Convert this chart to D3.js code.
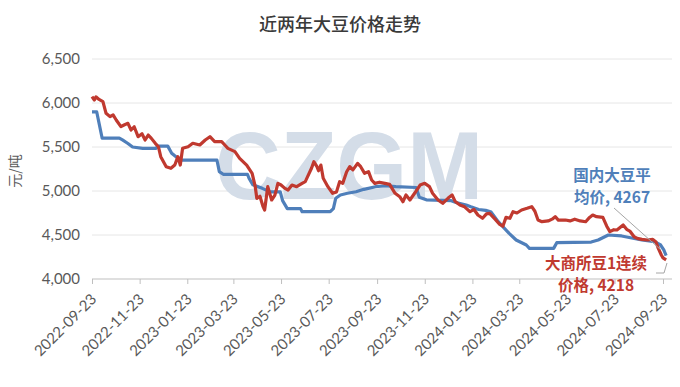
<!DOCTYPE html>
<html><head><meta charset="utf-8">
<script src="https://cdn.jsdelivr.net/npm/d3@7"></script>
<style>body{margin:0;background:#fff}svg{display:block}</style>
</head><body><svg id="c" width="680" height="387"></svg>
<script>
const title = "近两年大豆价格走势";
const yLabel = "元/吨";
const yTicks = [4000, 4500, 5000, 5500, 6000, 6500];
const xTickLabels = ["2022-09-23","2022-11-23","2023-01-23","2023-03-23","2023-05-23","2023-07-23","2023-09-23","2023-11-23","2024-01-23","2024-03-23","2024-05-23","2024-07-23","2024-09-23"];
const watermark = "CZGM";

const blueLabel = ["国内大豆平", "均价, 4267"];
const blueDates = ["2022-09-23","2022-09-29","2022-10-06","2022-10-28","2022-11-01","2022-11-08","2022-11-14","2022-11-27","2022-12-14","2022-12-16","2022-12-29","2023-01-03","2023-01-07","2023-01-14","2023-03-02","2023-03-05","2023-03-10","2023-04-10","2023-04-12","2023-04-17","2023-04-29","2023-05-09","2023-05-22","2023-05-25","2023-05-31","2023-06-17","2023-06-19","2023-07-25","2023-07-29","2023-08-01","2023-08-07","2023-08-16","2023-08-27","2023-09-06","2023-09-21","2023-10-04","2023-10-17","2023-11-12","2023-11-16","2023-11-25","2023-12-27","2024-01-02","2024-01-15","2024-01-21","2024-01-31","2024-02-09","2024-02-16","2024-02-25","2024-03-10","2024-03-19","2024-04-01","2024-04-05","2024-05-06","2024-05-10","2024-06-23","2024-07-02","2024-07-15","2024-08-01","2024-08-27","2024-09-12","2024-09-20","2024-09-24","2024-09-27"];
const blueValues = [5900,5900,5600,5600,5580,5540,5500,5485,5485,5510,5510,5430,5400,5350,5350,5220,5190,5190,5145,5070,5030,4990,4990,4890,4800,4800,4765,4765,4800,4917,4955,4974,4992,5019,5049,5060,5050,5040,4930,4900,4890,4870,4840,4820,4790,4780,4760,4651,4519,4443,4386,4348,4348,4413,4420,4443,4500,4489,4443,4424,4386,4330,4267];

const redLabel = ["大商所豆1连续", "价格, 4218"];
const redDates = ["2022-09-23","2022-09-26","2022-09-28","2022-10-02","2022-10-07","2022-10-11","2022-10-16","2022-10-20","2022-10-24","2022-10-30","2022-11-03","2022-11-08","2022-11-12","2022-11-16","2022-11-21","2022-11-26","2022-11-30","2022-12-04","2022-12-08","2022-12-13","2022-12-17","2022-12-20","2022-12-27","2023-01-02","2023-01-07","2023-01-11","2023-01-14","2023-01-17","2023-01-24","2023-01-30","2023-02-08","2023-02-15","2023-02-21","2023-02-27","2023-03-08","2023-03-12","2023-03-16","2023-03-25","2023-03-31","2023-04-09","2023-04-16","2023-04-20","2023-04-22","2023-04-26","2023-04-30","2023-05-02","2023-05-06","2023-05-11","2023-05-15","2023-05-19","2023-05-23","2023-05-28","2023-06-01","2023-06-06","2023-06-12","2023-06-19","2023-06-23","2023-06-26","2023-07-01","2023-07-04","2023-07-08","2023-07-10","2023-07-13","2023-07-16","2023-07-22","2023-07-28","2023-08-02","2023-08-06","2023-08-10","2023-08-15","2023-08-19","2023-08-23","2023-08-29","2023-09-02","2023-09-07","2023-09-12","2023-09-16","2023-09-20","2023-09-26","2023-10-03","2023-10-09","2023-10-16","2023-10-22","2023-10-26","2023-10-30","2023-11-04","2023-11-10","2023-11-17","2023-11-23","2023-11-29","2023-12-03","2023-12-10","2023-12-16","2023-12-23","2023-12-28","2024-01-01","2024-01-07","2024-01-13","2024-01-20","2024-01-25","2024-01-30","2024-02-05","2024-02-10","2024-02-14","2024-02-21","2024-02-27","2024-03-02","2024-03-06","2024-03-11","2024-03-15","2024-03-20","2024-03-26","2024-04-02","2024-04-08","2024-04-12","2024-04-16","2024-04-21","2024-04-29","2024-05-04","2024-05-08","2024-05-12","2024-05-21","2024-05-27","2024-06-02","2024-06-09","2024-06-16","2024-06-21","2024-06-25","2024-06-30","2024-07-08","2024-07-13","2024-07-17","2024-07-22","2024-07-26","2024-08-03","2024-08-08","2024-08-12","2024-08-17","2024-08-21","2024-08-27","2024-09-03","2024-09-10","2024-09-14","2024-09-17","2024-09-21","2024-09-23","2024-09-27"];
const redValues = [6072,6034,6070,6040,6015,5883,5845,5864,5807,5731,5750,5769,5693,5730,5617,5650,5580,5636,5598,5542,5503,5390,5276,5258,5295,5390,5295,5485,5503,5542,5523,5580,5617,5561,5561,5523,5485,5447,5371,5295,5201,5049,4917,4940,4822,4784,5049,4898,4950,5087,5068,5030,5011,5068,5049,5087,5106,5163,5258,5333,5276,5230,5295,5144,5049,4974,4990,5106,5087,5219,5276,5240,5314,5276,5201,5220,5125,5087,5100,5087,5075,4974,4935,4878,4955,4898,4974,5068,5087,5050,4974,4898,4860,4920,4955,4880,4841,4820,4765,4790,4727,4690,4740,4746,4680,4620,4600,4700,4690,4765,4750,4784,4803,4822,4770,4670,4651,4660,4680,4708,4670,4670,4660,4680,4660,4651,4700,4727,4708,4700,4600,4538,4560,4557,4614,4560,4540,4480,4462,4450,4443,4450,4420,4348,4270,4240,4218];

const parse = d3.timeParse("%Y-%m-%d");
const svg = d3.select("#c");
const mLeft = 92, mRight = 672, mTop = 59, mBottom = 279;

const x = d3.scaleTime().domain([parse("2022-09-23"), parse("2024-09-23")]).range([92, 663]);
const y = d3.scaleLinear().domain([4000, 6500]).range([mBottom, mTop]);

const blueColor = "#4f7fba", redColor = "#c0392f";
const textGray = "#595959";

// gridlines
svg.append("g").selectAll("line").data(yTicks.filter(d => d !== 4000)).join("line")
  .attr("x1", mLeft).attr("x2", mRight)
  .attr("y1", d => y(d)).attr("y2", d => y(d))
  .attr("stroke", "#e6e6e6").attr("stroke-width", 1);

// watermark
svg.append("text").attr("x", 215).attr("y", 199)
  .attr("font-family", "Liberation Sans, Arial, sans-serif").attr("font-weight", "bold")
  .attr("font-size", 96).attr("fill", "#d4dde8")
  .attr("textLength", 268).attr("lengthAdjust", "spacingAndGlyphs")
  .text(watermark);

// y axis
const yAxis = d3.axisLeft(y).tickValues(yTicks).tickFormat(d3.format(",")).tickSize(0).tickPadding(12);
const gy = svg.append("g").attr("transform", `translate(${mLeft},0)`).call(yAxis);
gy.select(".domain").remove();
gy.selectAll("text").attr("font-family", "Lato, sans-serif").attr("font-size", 15).attr("fill", textGray);

// x axis
const xAxis = d3.axisBottom(x).tickValues(xTickLabels.map(parse)).tickFormat(d3.timeFormat("%Y-%m-%d")).tickSize(5).tickSizeOuter(0);
const gx = svg.append("g").attr("transform", `translate(0,${mBottom})`).call(xAxis);
gx.select(".domain").remove();
gx.selectAll(".tick line").attr("stroke", "#bfbfbf");
gx.selectAll("text")
  .attr("font-family", "Lato, sans-serif").attr("font-size", 15).attr("fill", textGray)
  .attr("text-anchor", "end").attr("dy", null).attr("y", 0)
  .attr("transform", "translate(5,21) rotate(-45)");
svg.append("line").attr("x1", mLeft).attr("x2", mRight).attr("y1", mBottom).attr("y2", mBottom)
  .attr("stroke", "#bfbfbf");

// y label
svg.append("text").attr("transform", "translate(20,171) rotate(-90)")
  .attr("text-anchor", "middle").attr("font-family", "Noto Sans CJK SC").attr("font-size", 14)
  .attr("fill", textGray).text(yLabel);

// title
svg.append("text").attr("x", 340).attr("y", 31).attr("text-anchor", "middle")
  .attr("font-family", "Noto Sans CJK SC").attr("font-size", 18).attr("font-weight", 500).attr("fill", "#3a3a3a")
  .text(title);

const line = d3.line().x(d => x(d[0])).y(d => y(d[1]));
const blueData = blueDates.map((d, i) => [parse(d), blueValues[i]]);
const redData = redDates.map((d, i) => [parse(d), redValues[i]]);

svg.append("path").datum(blueData).attr("d", line).attr("fill", "none")
  .attr("stroke", blueColor).attr("stroke-width", 3.2).attr("stroke-linejoin", "round");
svg.append("path").datum(redData).attr("d", line).attr("fill", "none")
  .attr("stroke", redColor).attr("stroke-width", 3.2).attr("stroke-linejoin", "round");

// leader lines
svg.append("line").attr("x1", 614).attr("y1", 208).attr("x2", 661).attr("y2", 250)
  .attr("stroke", "#a6a6a6").attr("stroke-width", 1);
svg.append("polyline").attr("points", "656,273 664,273 667,263")
  .attr("fill", "none").attr("stroke", "#a6a6a6").attr("stroke-width", 1);

// labels
function label(lines, cx, y0, color) {
  lines.forEach((t, i) => {
    svg.append("text").attr("x", cx).attr("y", y0 + i * 22)
      .attr("font-family", "Noto Sans CJK SC").attr("font-weight", "bold")
      .attr("font-size", 15.5).attr("fill", color).attr("text-anchor", "middle").text(t);
  });
}
label(blueLabel, 612, 181, blueColor);
label(redLabel, 596, 269, redColor);
</script>
</body></html>
